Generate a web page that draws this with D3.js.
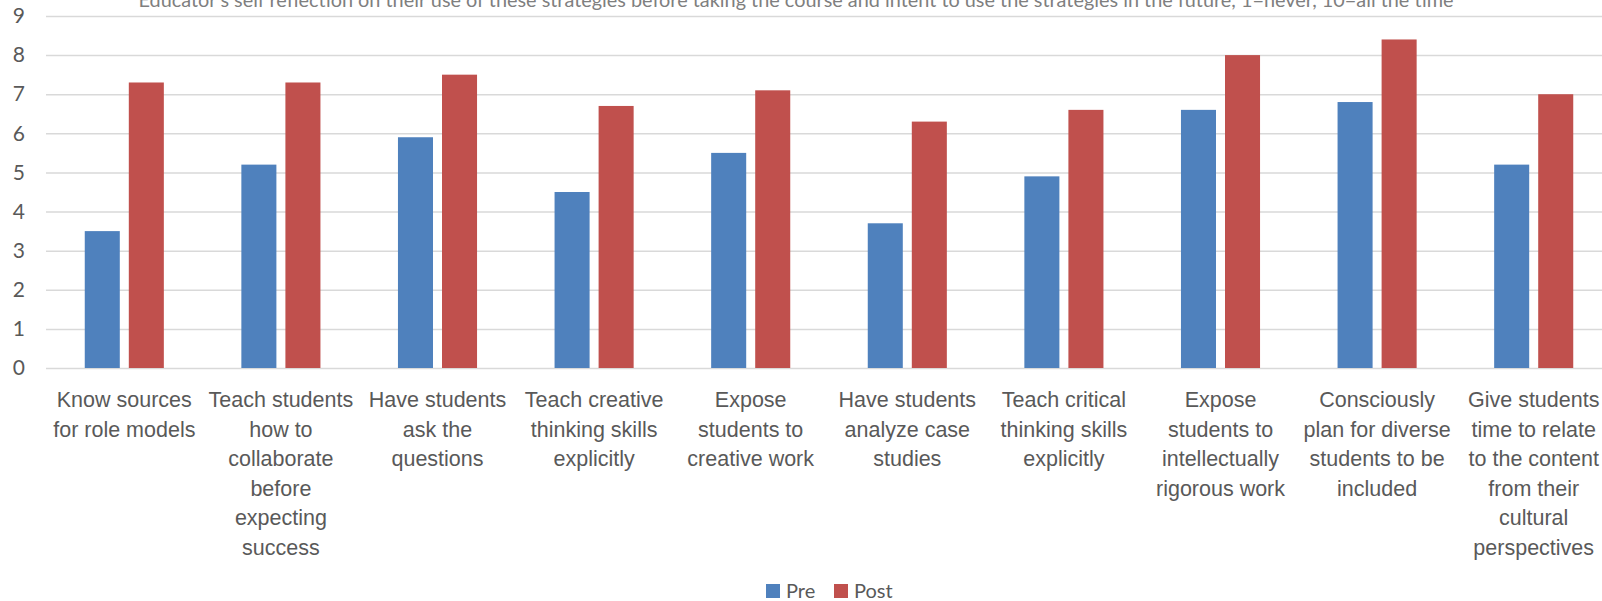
<!DOCTYPE html>
<html>
<head>
<meta charset="utf-8">
<script src="https://cdn.jsdelivr.net/npm/d3@7"></script>
<style>
  body { margin: 0; background: #fff; }
  svg { display: block; font-family: Lato, "Open Sans", sans-serif; }
</style>
</head>
<body>
<svg width="1602" height="601"></svg>
<script>
// data
var categories = [
  ["Know sources", "for role models"],
  ["Teach students", "how to", "collaborate", "before", "expecting", "success"],
  ["Have students", "ask the", "questions"],
  ["Teach creative", "thinking skills", "explicitly"],
  ["Expose", "students to", "creative work"],
  ["Have students", "analyze case", "studies"],
  ["Teach critical", "thinking skills", "explicitly"],
  ["Expose", "students to", "intellectually", "rigorous work"],
  ["Consciously", "plan for diverse", "students to be", "included"],
  ["Give students", "time to relate", "to the content", "from their", "cultural", "perspectives"]
];
var seriesNames = ["Pre", "Post"];
var preValues = [3.5, 5.2, 5.9, 4.5, 5.5, 3.7, 4.9, 6.6, 6.8, 5.2];
var postValues = [7.3, 7.3, 7.5, 6.7, 7.1, 6.3, 6.6, 8.0, 8.4, 7.0];
var yTicks = [0, 1, 2, 3, 4, 5, 6, 7, 8, 9];
var title = "Educator's self reflection on their use of these strategies before taking the course and intent to use the strategies in the future, 1=never, 10=all the time";

var colors = { Pre: "#4f81bd", Post: "#c0504d" };
var textColor = "#595959";

// layout
var plotLeft = 46, plotRight = 1612, plotTop = 16, plotBottom = 368;

var svg = d3.select("svg");

var x0 = d3.scaleBand()
  .domain(d3.range(categories.length))
  .range([plotLeft, plotRight])
  .paddingInner(0.495)
  .paddingOuter(0.2475);

var x1 = d3.scaleBand()
  .domain(seriesNames)
  .range([0, x0.bandwidth()])
  .paddingInner(0.2045);

var y = d3.scaleLinear()
  .domain([0, 9])
  .range([plotBottom, plotTop]);

// gridlines + y labels
var yAxis = svg.append("g")
  .attr("transform", `translate(${plotLeft},0)`)
  .call(d3.axisLeft(y).tickValues(yTicks).tickSize(-(plotRight - plotLeft)).tickPadding(21));
yAxis.select(".domain").remove();
yAxis.selectAll(".tick line").attr("stroke", "#d9d9d9").attr("stroke-width", 1.5);
yAxis.selectAll(".tick text")
  .attr("fill", textColor)
  .style("font-size", "21px")
  .style("font-family", "Lato, sans-serif");

// title (cut off at the top like the original)
svg.append("text")
  .attr("x", 796)
  .attr("y", 7)
  .attr("text-anchor", "middle")
  .attr("fill", "#7f7f7f")
  .attr("textLength", 1315)
  .attr("lengthAdjust", "spacingAndGlyphs")
  .style("font-size", "19.8px")
  .text(title);

// bars
var rows = categories.map(function(c, i) {
  return { i: i, Pre: preValues[i], Post: postValues[i] };
});

var groups = svg.selectAll(".grp")
  .data(rows)
  .enter()
  .append("g")
  .attr("class", "grp")
  .attr("transform", d => `translate(${x0(d.i)},0)`);

groups.selectAll("rect")
  .data(d => seriesNames.map(k => ({ key: k, value: d[k] })))
  .enter()
  .append("rect")
  .attr("x", d => x1(d.key))
  .attr("y", d => y(d.value))
  .attr("width", x1.bandwidth())
  .attr("height", d => y(0) - y(d.value))
  .attr("fill", d => colors[d.key]);

// category labels
var xAxis = svg.append("g")
  .attr("transform", `translate(0,${plotBottom})`)
  .call(d3.axisBottom(x0).tickSize(0).tickFormat(""));
xAxis.select(".domain").remove();
xAxis.selectAll(".tick text").remove();
xAxis.selectAll(".tick").append("text")
  .attr("fill", textColor)
  .attr("text-anchor", "middle")
  .style("font-size", "21.5px")
  .selectAll("tspan")
  .data(d => categories[d])
  .enter()
  .append("tspan")
  .attr("x", 0)
  .attr("y", (d, j) => 39 + j * 29.6)
  .text(d => d);

// legend
var legend = svg.append("g").attr("transform", "translate(766,584)");
var legendX = { Pre: 0, Post: 68 };
seriesNames.forEach(function(k) {
  legend.append("rect")
    .attr("x", legendX[k])
    .attr("y", 0)
    .attr("width", 14)
    .attr("height", 14)
    .attr("fill", colors[k]);
  legend.append("text")
    .attr("x", legendX[k] + 20)
    .attr("y", 14)
    .attr("fill", textColor)
    .style("font-size", "20px")
    .text(k);
});
</script>
</body>
</html>
